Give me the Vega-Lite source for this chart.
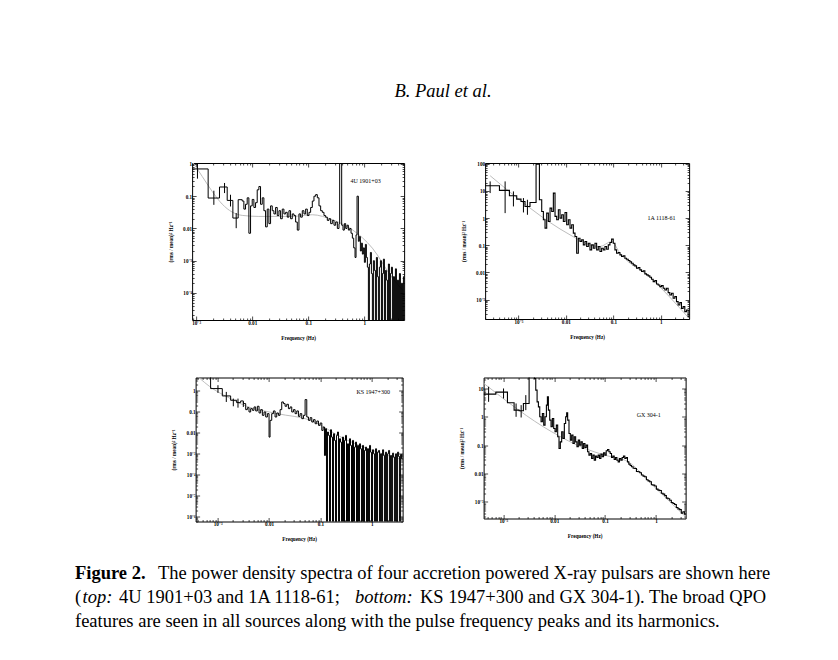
{
  "$schema": "https://vega.github.io/schema/vega-lite/v6.json",
  "padding": {"left": 75, "top": 81, "right": 5, "bottom": 5},
  "background": "white",
  "title": {
    "text": "B. Paul et al.",
    "font": "Liberation Serif",
    "fontSize": 18.5,
    "fontStyle": "italic",
    "fontWeight": "normal",
    "color": "black",
    "anchor": "middle",
    "frame": "bounds",
    "baseline": "alphabetic",
    "dx": 2,
    "offset": 46
  },
  "config": {
    "view": {"stroke": "black", "strokeWidth": 1},
    "axis": {
      "domain": false,
      "grid": false,
      "labelFont": "Liberation Serif",
      "labelFontSize": 5.2,
      "labelFontWeight": "bold",
      "labelColor": "black",
      "labelOverlap": false,
      "labelFlush": false,
      "titleFont": "Liberation Serif",
      "titleFontSize": 5.2,
      "titleFontWeight": "bold",
      "titleColor": "black",
      "tickColor": "black",
      "tickWidth": 0.7
    },
    "axisLeft": {"minExtent": 14, "maxExtent": 14, "titlePadding": 5, "labelPadding": 4.5},
    "axisBottom": {"minExtent": 8, "maxExtent": 8, "titlePadding": 7, "labelPadding": 4},
    "axisRight": {"minExtent": 0, "maxExtent": 0},
    "axisTop": {"minExtent": 0, "maxExtent": 0}
  },
  "datasets": {
    "p1": [
      {"f": 0.000848, "p": 0.70}, {"f": 0.001638, "p": 0.0877}, {"f": 0.00261, "p": 0.193}, {"f": 0.00358, "p": 0.074},
      {"f": 0.00452, "p": 0.021}, {"f": 0.00562, "p": 0.078}, {"f": 0.00663, "p": 0.0708}, {"f": 0.0071, "p": 0.0398},
      {"f": 0.0076, "p": 0.0562}, {"f": 0.00814, "p": 0.0891}, {"f": 0.00872, "p": 0.0071}, {"f": 0.00934, "p": 0.0501},
      {"f": 0.0100, "p": 0.0794}, {"f": 0.01071, "p": 0.0447}, {"f": 0.01147, "p": 0.0631}, {"f": 0.01228, "p": 0.158},
      {"f": 0.01315, "p": 0.2}, {"f": 0.01408, "p": 0.0562}, {"f": 0.01509, "p": 0.0891}, {"f": 0.01615, "p": 0.0355},
      {"f": 0.0173, "p": 0.0112}, {"f": 0.01853, "p": 0.0398}, {"f": 0.01984, "p": 0.0141}, {"f": 0.02125, "p": 0.0501},
      {"f": 0.02276, "p": 0.0355}, {"f": 0.02437, "p": 0.0282}, {"f": 0.0261, "p": 0.0447}, {"f": 0.02795, "p": 0.0251},
      {"f": 0.02994, "p": 0.0355}, {"f": 0.03206, "p": 0.02}, {"f": 0.03434, "p": 0.0398}, {"f": 0.03677, "p": 0.0282},
      {"f": 0.03938, "p": 0.0316}, {"f": 0.04217, "p": 0.0224}, {"f": 0.04516, "p": 0.0355}, {"f": 0.04837, "p": 0.02},
      {"f": 0.0518, "p": 0.0282}, {"f": 0.05547, "p": 0.0251}, {"f": 0.05941, "p": 0.0158}, {"f": 0.06362, "p": 0.0089},
      {"f": 0.06813, "p": 0.0282}, {"f": 0.07297, "p": 0.0224}, {"f": 0.07814, "p": 0.0355}, {"f": 0.08369, "p": 0.0282},
      {"f": 0.08962, "p": 0.0398}, {"f": 0.09597, "p": 0.0251}, {"f": 0.1028, "p": 0.0316}, {"f": 0.1101, "p": 0.0447},
      {"f": 0.1179, "p": 0.0708}, {"f": 0.1262, "p": 0.1}, {"f": 0.1352, "p": 0.112}, {"f": 0.1448, "p": 0.0891},
      {"f": 0.155, "p": 0.0501}, {"f": 0.166, "p": 0.0355}, {"f": 0.1778, "p": 0.0316}, {"f": 0.1904, "p": 0.0251},
      {"f": 0.2039, "p": 0.0224}, {"f": 0.2184, "p": 0.0178}, {"f": 0.2339, "p": 0.02}, {"f": 0.2504, "p": 0.0141},
      {"f": 0.2682, "p": 0.0178}, {"f": 0.2872, "p": 0.0126}, {"f": 0.3076, "p": 0.0158}, {"f": 0.3294, "p": 0.01},
      {"f": 0.3528, "p": 0.0141}, {"f": 0.3628, "p": 4.0}, {"f": 0.3937, "p": 0.0126}, {"f": 0.4159, "p": 0.0089},
      {"f": 0.4394, "p": 0.0141}, {"f": 0.4642, "p": 0.01}, {"f": 0.4903, "p": 0.0126}, {"f": 0.518, "p": 0.0089},
      {"f": 0.5472, "p": 0.01}, {"f": 0.578, "p": 0.0071}, {"f": 0.6106, "p": 0.005}, {"f": 0.645, "p": 0.0025},
      {"f": 0.6813, "p": 0.00126}, {"f": 0.7099, "p": 0.0063}, {"f": 0.7396, "p": 0.1}, {"f": 0.7814, "p": 0.004},
      {"f": 0.8141, "p": 0.0056}, {"f": 0.8484, "p": 0.002}, {"f": 0.8839, "p": 0.0035}, {"f": 0.9211, "p": 0.0016},
      {"f": 0.9597, "p": 0.0025}, {"f": 1.0, "p": 0.00089}, {"f": 1.042, "p": 0.0032}, {"f": 1.086, "p": 0.00126},
      {"f": 1.131, "p": 0.00063}, {"f": 1.179, "p": 1e-9}, {"f": 1.228, "p": 0.00079}, {"f": 1.28, "p": 0.0018},
      {"f": 1.334, "p": 0.0004}, {"f": 1.389, "p": 1e-9}, {"f": 1.448, "p": 0.001}, {"f": 1.509, "p": 0.0005},
      {"f": 1.572, "p": 1e-9}, {"f": 1.638, "p": 0.00126}, {"f": 1.707, "p": 0.00032}, {"f": 1.778, "p": 1e-9},
      {"f": 1.853, "p": 0.00063}, {"f": 1.931, "p": 0.001}, {"f": 2.012, "p": 1e-9}, {"f": 2.096, "p": 0.0004},
      {"f": 2.184, "p": 0.00112}, {"f": 2.276, "p": 1e-9}, {"f": 2.371, "p": 0.0005}, {"f": 2.471, "p": 0.00025},
      {"f": 2.575, "p": 1e-9}, {"f": 2.683, "p": 0.00079}, {"f": 2.795, "p": 1e-9}, {"f": 2.912, "p": 0.0004},
      {"f": 3.035, "p": 0.00063}, {"f": 3.162, "p": 1e-9}, {"f": 3.295, "p": 0.00032}, {"f": 3.433, "p": 1e-9},
      {"f": 3.577, "p": 0.00056}, {"f": 3.727, "p": 1e-9}, {"f": 3.884, "p": 0.00025}, {"f": 4.047, "p": 1e-9},
      {"f": 4.217, "p": 0.0004}, {"f": 4.394, "p": 1e-9}, {"f": 4.578, "p": 0.0002}, {"f": 4.77, "p": 1e-9},
      {"f": 4.97, "p": 0.00032}, {"f": 5.2, "p": 0.00032}
    ],
    "p1m": [
      {"f": 0.000848, "p": 1.21}, {"f": 0.00128, "p": 0.414}, {"f": 0.00193, "p": 0.141}, {"f": 0.00291, "p": 0.057},
      {"f": 0.00439, "p": 0.0322}, {"f": 0.00663, "p": 0.0254}, {"f": 0.01315, "p": 0.0236}, {"f": 0.0518, "p": 0.0236},
      {"f": 0.1179, "p": 0.0266}, {"f": 0.2682, "p": 0.0186}, {"f": 0.6106, "p": 0.0091}, {"f": 1.389, "p": 0.00245},
      {"f": 3.162, "p": 0.00029}, {"f": 5.11, "p": 0.00011}
    ],
    "p1e": [
      {"f": 0.001056, "lo": 0.35, "hi": 1.07}, {"f": 0.00207, "lo": 0.054, "hi": 0.148},
      {"f": 0.00321, "lo": 0.125, "hi": 0.257}, {"f": 0.0041, "lo": 0.048, "hi": 0.111},
      {"f": 0.00518, "lo": 0.0102, "hi": 0.03}
    ],
    "p2": [
      {"f": 0.000199, "p": 15.5}, {"f": 0.000399, "p": 10.4}, {"f": 0.000647, "p": 6.62}, {"f": 0.000921, "p": 4.99},
      {"f": 0.001135, "p": 4.09}, {"f": 0.001377, "p": 2.68}, {"f": 0.001754, "p": 3.76}, {"f": 0.002355, "p": 95},
      {"f": 0.00277, "p": 4.71}, {"f": 0.003098, "p": 1.75}, {"f": 0.003358, "p": 0.863}, {"f": 0.00364, "p": 0.426},
      {"f": 0.003946, "p": 1.52}, {"f": 0.004278, "p": 0.75}, {"f": 0.004638, "p": 2.32}, {"f": 0.005028, "p": 1.75},
      {"f": 0.00545, "p": 8.3}, {"f": 0.005908, "p": 1.15}, {"f": 0.006405, "p": 0.863}, {"f": 0.006944, "p": 2.02},
      {"f": 0.007527, "p": 0.994}, {"f": 0.00816, "p": 1.32}, {"f": 0.008845, "p": 0.75}, {"f": 0.009589, "p": 1.61},
      {"f": 0.01039, "p": 0.565}, {"f": 0.01127, "p": 0.863}, {"f": 0.01222, "p": 0.426}, {"f": 0.01324, "p": 0.565},
      {"f": 0.01436, "p": 0.279}, {"f": 0.01556, "p": 0.21}, {"f": 0.01687, "p": 0.0511}, {"f": 0.01829, "p": 0.182},
      {"f": 0.01983, "p": 0.137}, {"f": 0.02149, "p": 0.158}, {"f": 0.0233, "p": 0.103}, {"f": 0.02526, "p": 0.137},
      {"f": 0.02738, "p": 0.0897}, {"f": 0.02968, "p": 0.119}, {"f": 0.03218, "p": 0.0676}, {"f": 0.03488, "p": 0.103},
      {"f": 0.03781, "p": 0.0779}, {"f": 0.04099, "p": 0.119}, {"f": 0.04443, "p": 0.0676}, {"f": 0.04817, "p": 0.0897},
      {"f": 0.05221, "p": 0.0588}, {"f": 0.0566, "p": 0.0779}, {"f": 0.06136, "p": 0.0676}, {"f": 0.06651, "p": 0.0897},
      {"f": 0.0721, "p": 0.0716}, {"f": 0.07816, "p": 0.103}, {"f": 0.08472, "p": 0.126}, {"f": 0.09183, "p": 0.168},
      {"f": 0.09952, "p": 0.119}, {"f": 0.1079, "p": 0.0676}, {"f": 0.1169, "p": 0.0511}, {"f": 0.1268, "p": 0.054},
      {"f": 0.1374, "p": 0.0443}, {"f": 0.149, "p": 0.0385}, {"f": 0.1615, "p": 0.0407}, {"f": 0.175, "p": 0.0334},
      {"f": 0.1897, "p": 0.0306}, {"f": 0.2057, "p": 0.0274}, {"f": 0.2229, "p": 0.0244}, {"f": 0.2416, "p": 0.0218},
      {"f": 0.262, "p": 0.019}, {"f": 0.284, "p": 0.0174}, {"f": 0.3078, "p": 0.0143}, {"f": 0.3337, "p": 0.0151},
      {"f": 0.3617, "p": 0.0124}, {"f": 0.3922, "p": 0.0108}, {"f": 0.4251, "p": 0.0114}, {"f": 0.4608, "p": 0.00883},
      {"f": 0.4995, "p": 0.00811}, {"f": 0.5415, "p": 0.00745}, {"f": 0.587, "p": 0.00665}, {"f": 0.6363, "p": 0.00561},
      {"f": 0.6898, "p": 0.0046}, {"f": 0.7478, "p": 0.00501}, {"f": 0.8106, "p": 0.00377}, {"f": 0.8788, "p": 0.00347},
      {"f": 0.9528, "p": 0.00301}, {"f": 1.033, "p": 0.00327}, {"f": 1.12, "p": 0.00261}, {"f": 1.214, "p": 0.00227},
      {"f": 1.315, "p": 0.00261}, {"f": 1.426, "p": 0.00181}, {"f": 1.546, "p": 0.00148}, {"f": 1.676, "p": 0.00171},
      {"f": 1.816, "p": 0.00112}, {"f": 1.969, "p": 0.00129}, {"f": 2.135, "p": 0.000843}, {"f": 2.314, "p": 0.000635},
      {"f": 2.509, "p": 0.000774}, {"f": 2.72, "p": 0.000478}, {"f": 2.948, "p": 0.000552}, {"f": 3.196, "p": 0.000361},
      {"f": 3.464, "p": 0.000416}, {"f": 3.755, "p": 0.000236}, {"f": 4.0, "p": 0.000236}
    ],
    "p2m": [
      {"f": 0.000254, "p": 36.1}, {"f": 0.01222, "p": 0.242}, {"f": 0.03218, "p": 0.103}, {"f": 0.05221, "p": 0.0897},
      {"f": 0.09183, "p": 0.137}, {"f": 0.1374, "p": 0.0511}, {"f": 0.587, "p": 0.00665}, {"f": 3.94, "p": 0.000205}
    ],
    "p2e": [
      {"f": 0.000254, "lo": 8.3, "hi": 22.3}, {"f": 0.000525, "lo": 1.52, "hi": 22.3},
      {"f": 0.000786, "lo": 2.68, "hi": 9.55}, {"f": 0.001277, "lo": 1.61, "hi": 5.43},
      {"f": 0.001549, "lo": 1.32, "hi": 4.71}
    ],
    "p3": [
      {"f": 0.000373, "p": 6.79}, {"f": 0.00073, "p": 1.29}, {"f": 0.001233, "p": 0.575}, {"f": 0.001791, "p": 0.356},
      {"f": 0.002345, "p": 0.275}, {"f": 0.002806, "p": 0.331}, {"f": 0.003162, "p": 0.247}, {"f": 0.003511, "p": 0.127},
      {"f": 0.003784, "p": 0.158}, {"f": 0.004077, "p": 0.0982}, {"f": 0.004394, "p": 0.142}, {"f": 0.004735, "p": 0.118},
      {"f": 0.005102, "p": 0.171}, {"f": 0.005498, "p": 0.11}, {"f": 0.005925, "p": 0.184}, {"f": 0.006385, "p": 0.0879},
      {"f": 0.006881, "p": 0.127}, {"f": 0.007415, "p": 0.0679}, {"f": 0.007991, "p": 0.0982}, {"f": 0.008611, "p": 0.0565},
      {"f": 0.009279, "p": 0.0817}, {"f": 0.01, "p": 0.00619}, {"f": 0.01046, "p": 0.0391}, {"f": 0.01127, "p": 0.0817},
      {"f": 0.01215, "p": 0.11}, {"f": 0.01309, "p": 0.0565}, {"f": 0.01411, "p": 0.0879}, {"f": 0.0152, "p": 0.0679},
      {"f": 0.01638, "p": 0.127}, {"f": 0.01766, "p": 0.296}, {"f": 0.01903, "p": 0.247}, {"f": 0.0205, "p": 0.184},
      {"f": 0.02209, "p": 0.229}, {"f": 0.02381, "p": 0.142}, {"f": 0.02566, "p": 0.171}, {"f": 0.02765, "p": 0.0982},
      {"f": 0.02979, "p": 0.127}, {"f": 0.0321, "p": 0.0817}, {"f": 0.03459, "p": 0.11}, {"f": 0.03728, "p": 0.0608},
      {"f": 0.04017, "p": 0.0817}, {"f": 0.04329, "p": 0.047}, {"f": 0.04665, "p": 0.0679}, {"f": 0.05027, "p": 0.384},
      {"f": 0.05417, "p": 0.0565}, {"f": 0.05837, "p": 0.0391}, {"f": 0.0629, "p": 0.0525}, {"f": 0.06778, "p": 0.0325},
      {"f": 0.07304, "p": 0.0421}, {"f": 0.07871, "p": 0.027}, {"f": 0.08482, "p": 0.0363}, {"f": 0.09141, "p": 0.0225},
      {"f": 0.09851, "p": 0.0291}, {"f": 0.1062, "p": 0.0129}, {"f": 0.1127, "p": 0.0187}, {"f": 0.1197, "p": 0.000817},
      {"f": 0.1252, "p": 0.0156}, {"f": 0.1309, "p": 1e-9}, {"f": 0.1369, "p": 0.0108}, {"f": 0.1431, "p": 0.00745},
      {"f": 0.1497, "p": 1e-9}, {"f": 0.1566, "p": 0.0139}, {"f": 0.1638, "p": 0.00619}, {"f": 0.1713, "p": 1e-9},
      {"f": 0.1791, "p": 0.00895}, {"f": 0.1873, "p": 0.00429}, {"f": 0.1959, "p": 1e-9}, {"f": 0.2049, "p": 0.00745},
      {"f": 0.2143, "p": 0.0108}, {"f": 0.2241, "p": 1e-9}, {"f": 0.2344, "p": 0.00515}, {"f": 0.2452, "p": 0.00356},
      {"f": 0.2564, "p": 1e-9}, {"f": 0.2682, "p": 0.00619}, {"f": 0.2805, "p": 1e-9}, {"f": 0.2933, "p": 0.00429},
      {"f": 0.3069, "p": 0.00745}, {"f": 0.3209, "p": 1e-9}, {"f": 0.3357, "p": 0.00296}, {"f": 0.3511, "p": 1e-9},
      {"f": 0.3672, "p": 0.00515}, {"f": 0.3841, "p": 0.00247}, {"f": 0.4017, "p": 1e-9}, {"f": 0.4201, "p": 0.00429},
      {"f": 0.4394, "p": 1e-9}, {"f": 0.4595, "p": 0.00205}, {"f": 0.4806, "p": 0.00356}, {"f": 0.5027, "p": 1e-9},
      {"f": 0.5257, "p": 0.00247}, {"f": 0.5499, "p": 1e-9}, {"f": 0.5751, "p": 0.00296}, {"f": 0.6015, "p": 0.00171},
      {"f": 0.6291, "p": 1e-9}, {"f": 0.6579, "p": 0.00247}, {"f": 0.6881, "p": 1e-9}, {"f": 0.7197, "p": 0.00142},
      {"f": 0.7527, "p": 0.00205}, {"f": 0.7873, "p": 1e-9}, {"f": 0.8234, "p": 0.00171}, {"f": 0.8612, "p": 1e-9},
      {"f": 0.9007, "p": 0.00247}, {"f": 0.9419, "p": 0.00118}, {"f": 0.9851, "p": 1e-9}, {"f": 1.03, "p": 0.00153},
      {"f": 1.078, "p": 0.000982}, {"f": 1.127, "p": 1e-9}, {"f": 1.179, "p": 0.00171}, {"f": 1.233, "p": 1e-9},
      {"f": 1.289, "p": 0.00118}, {"f": 1.349, "p": 0.00142}, {"f": 1.41, "p": 1e-9}, {"f": 1.475, "p": 0.000982},
      {"f": 1.543, "p": 1e-9}, {"f": 1.614, "p": 0.00153}, {"f": 1.688, "p": 0.000817}, {"f": 1.765, "p": 1e-9},
      {"f": 1.846, "p": 0.00118}, {"f": 1.931, "p": 1e-9}, {"f": 2.02, "p": 0.000982}, {"f": 2.112, "p": 0.00142},
      {"f": 2.209, "p": 1e-9}, {"f": 2.31, "p": 0.000817}, {"f": 2.416, "p": 1e-9}, {"f": 2.527, "p": 0.00106},
      {"f": 2.643, "p": 0.000679}, {"f": 2.764, "p": 1e-9}, {"f": 2.891, "p": 0.000982}, {"f": 3.024, "p": 1e-9},
      {"f": 3.162, "p": 0.00118}, {"f": 3.307, "p": 0.000731}, {"f": 3.459, "p": 1e-9}, {"f": 3.618, "p": 0.000912},
      {"f": 3.784, "p": 0.000565}, {"f": 4.05, "p": 0.000565}
    ],
    "p3m": [
      {"f": 0.000373, "p": 5.9}, {"f": 0.000849, "p": 1.16}, {"f": 0.00154, "p": 0.515}, {"f": 0.00326, "p": 0.205},
      {"f": 0.01453, "p": 0.0817}, {"f": 0.0648, "p": 0.0391}, {"f": 0.289, "p": 0.00515}, {"f": 1.289, "p": 0.00118},
      {"f": 3.96, "p": 0.000506}
    ],
    "p3e": [
      {"f": 0.001015, "lo": 0.8, "hi": 1.87}, {"f": 0.001475, "lo": 0.296, "hi": 0.895},
      {"f": 0.002019, "lo": 0.184, "hi": 0.428}, {"f": 0.002489, "lo": 0.158, "hi": 0.428},
      {"f": 0.003162, "lo": 0.171, "hi": 0.296}
    ],
    "p4": [
      {"f": 0.000411, "p": 6.31}, {"f": 0.000714, "p": 7.42}, {"f": 0.001208, "p": 3.12}, {"f": 0.001632, "p": 1.72},
      {"f": 0.002045, "p": 1.63}, {"f": 0.002486, "p": 2.96}, {"f": 0.003219, "p": 29}, {"f": 0.004095, "p": 22.5},
      {"f": 0.004348, "p": 8.73}, {"f": 0.004617, "p": 3.38}, {"f": 0.004902, "p": 2.25}, {"f": 0.005206, "p": 1.0},
      {"f": 0.005527, "p": 0.667}, {"f": 0.005869, "p": 1.31}, {"f": 0.006232, "p": 0.508}, {"f": 0.006622, "p": 1.0},
      {"f": 0.007036, "p": 2.58}, {"f": 0.007359, "p": 5.08}, {"f": 0.007699, "p": 1.72}, {"f": 0.008177, "p": 0.763},
      {"f": 0.008683, "p": 0.444}, {"f": 0.009221, "p": 0.873}, {"f": 0.009792, "p": 0.388}, {"f": 0.0104, "p": 0.296},
      {"f": 0.01104, "p": 0.508}, {"f": 0.01172, "p": 0.197}, {"f": 0.01245, "p": 0.0762}, {"f": 0.01322, "p": 0.131},
      {"f": 0.01404, "p": 0.296}, {"f": 0.01491, "p": 0.172}, {"f": 0.01584, "p": 0.582}, {"f": 0.01681, "p": 1.0},
      {"f": 0.01759, "p": 1.38}, {"f": 0.01841, "p": 0.763}, {"f": 0.01955, "p": 0.258}, {"f": 0.02076, "p": 0.15},
      {"f": 0.02205, "p": 0.225}, {"f": 0.02342, "p": 0.115}, {"f": 0.02487, "p": 0.197}, {"f": 0.02641, "p": 0.131},
      {"f": 0.02804, "p": 0.0873}, {"f": 0.02978, "p": 0.15}, {"f": 0.03162, "p": 0.1}, {"f": 0.03358, "p": 0.131},
      {"f": 0.03566, "p": 0.0762}, {"f": 0.03787, "p": 0.115}, {"f": 0.04021, "p": 0.0828}, {"f": 0.0427, "p": 0.1},
      {"f": 0.04535, "p": 0.0582}, {"f": 0.04816, "p": 0.0444}, {"f": 0.05114, "p": 0.0508}, {"f": 0.05433, "p": 0.0338},
      {"f": 0.05768, "p": 0.0444}, {"f": 0.06126, "p": 0.0296}, {"f": 0.06505, "p": 0.0409}, {"f": 0.06908, "p": 0.0367},
      {"f": 0.07336, "p": 0.0444}, {"f": 0.07791, "p": 0.0338}, {"f": 0.08276, "p": 0.0481}, {"f": 0.08788, "p": 0.0388},
      {"f": 0.09333, "p": 0.0536}, {"f": 0.09911, "p": 0.0444}, {"f": 0.1052, "p": 0.0631}, {"f": 0.1117, "p": 0.0703},
      {"f": 0.1187, "p": 0.0582}, {"f": 0.126, "p": 0.0508}, {"f": 0.1338, "p": 0.0367}, {"f": 0.1421, "p": 0.0409},
      {"f": 0.151, "p": 0.0312}, {"f": 0.1603, "p": 0.0367}, {"f": 0.1702, "p": 0.0296}, {"f": 0.1808, "p": 0.0258},
      {"f": 0.192, "p": 0.0338}, {"f": 0.2039, "p": 0.0296}, {"f": 0.2165, "p": 0.0367}, {"f": 0.2299, "p": 0.0409},
      {"f": 0.2442, "p": 0.0338}, {"f": 0.2593, "p": 0.0367}, {"f": 0.2754, "p": 0.0258}, {"f": 0.2924, "p": 0.0214},
      {"f": 0.3106, "p": 0.0191}, {"f": 0.3298, "p": 0.0172}, {"f": 0.3556, "p": 0.0154}, {"f": 0.3833, "p": 0.015},
      {"f": 0.4132, "p": 0.0118}, {"f": 0.4454, "p": 0.0115}, {"f": 0.4802, "p": 0.0106}, {"f": 0.5176, "p": 0.0088},
      {"f": 0.558, "p": 0.00805}, {"f": 0.6016, "p": 0.0077}, {"f": 0.6486, "p": 0.006}, {"f": 0.6993, "p": 0.00551},
      {"f": 0.7538, "p": 0.0051}, {"f": 0.8126, "p": 0.004}, {"f": 0.8761, "p": 0.00387}, {"f": 0.9445, "p": 0.0036},
      {"f": 1.018, "p": 0.0028}, {"f": 1.098, "p": 0.00258}, {"f": 1.183, "p": 0.0025}, {"f": 1.276, "p": 0.002},
      {"f": 1.375, "p": 0.00187}, {"f": 1.483, "p": 0.00165}, {"f": 1.598, "p": 0.00135}, {"f": 1.723, "p": 0.00128},
      {"f": 1.858, "p": 0.00114}, {"f": 2.003, "p": 0.00095}, {"f": 2.159, "p": 0.000873}, {"f": 2.327, "p": 0.0008},
      {"f": 2.509, "p": 0.00063}, {"f": 2.704, "p": 0.000566}, {"f": 2.916, "p": 0.00053}, {"f": 3.144, "p": 0.0004},
      {"f": 3.388, "p": 0.000444}, {"f": 3.653, "p": 0.000367}, {"f": 3.9, "p": 0.000367}
    ],
    "p4m": [
      {"f": 0.000411, "p": 15.3}, {"f": 0.00895, "p": 0.296}, {"f": 0.0402, "p": 0.0762}, {"f": 0.099, "p": 0.0444},
      {"f": 0.284, "p": 0.0258}, {"f": 0.813, "p": 0.00421}, {"f": 3.82, "p": 0.000296}
    ],
    "p4e": [
      {"f": 0.000515, "lo": 3.38, "hi": 11.5}, {"f": 0.001012, "lo": 4.44, "hi": 10},
      {"f": 0.001786, "lo": 1.0, "hi": 2.96}, {"f": 0.002245, "lo": 0.947, "hi": 2.58},
      {"f": 0.002771, "lo": 1.72, "hi": 5.82}
    ],
    "labels": [
      {"panel": 1, "name": "4U 1901+03"},
      {"panel": 2, "name": "1A 1118-61"},
      {"panel": 3, "name": "KS 1947+300"},
      {"panel": 4, "name": "GX 304-1"}
    ],
    "caption": [
      {"line": 1, "seg": "fig", "text": "Figure 2."},
      {"line": 1, "seg": "r1", "text": "The power density spectra of four accretion powered X-ray pulsars are shown here"},
      {"line": 2, "seg": "open", "text": "("},
      {"line": 2, "seg": "top", "text": "top:"},
      {"line": 2, "seg": "r2a", "text": "4U 1901+03 and 1A 1118-61;"},
      {"line": 2, "seg": "bottom", "text": "bottom:"},
      {"line": 2, "seg": "r2b", "text": "KS 1947+300 and GX 304-1).  The broad QPO"},
      {"line": 3, "seg": "r3", "text": "features are seen in all sources along with the pulse frequency peaks and its harmonics."}
    ]
  },
  "vconcat": [
    {
      "vconcat": [
        {
          "hconcat": [
            {
              "width": 212,
              "height": 157,
              "layer": [
                {
                  "data": {"name": "p1m"},
                  "mark": {"type": "line", "interpolate": "monotone", "color": "#bdbdbd", "strokeWidth": 1, "clip": true},
                  "encoding": {
                    "x": {"field": "f", "type": "quantitative", "scale": {"type": "log", "domain": [0.000848, 5.11], "nice": false},
                      "axis": {"orient": "top", "labels": false, "title": null, "values": [0.0009,0.001,0.002,0.003,0.004,0.005,0.006,0.007,0.008,0.009,0.01,0.02,0.03,0.04,0.05,0.06,0.07,0.08,0.09,0.1,0.2,0.3,0.4,0.5,0.6,0.7,0.8,0.9,1,2,3,4,5],
                        "tickSize": {"condition": {"test": "abs(log(datum.value)/LN10 - round(log(datum.value)/LN10)) < 0.01", "value": -4}, "value": -2}}},
                    "y": {"field": "p", "type": "quantitative", "scale": {"type": "log", "domain": [0.0000145, 1.07], "nice": false},
                      "axis": {"orient": "right", "labels": false, "title": null, "values": [0.00002,0.00003,0.00004,0.00005,0.00006,0.00007,0.00008,0.00009,0.0001,0.0002,0.0003,0.0004,0.0005,0.0006,0.0007,0.0008,0.0009,0.001,0.002,0.003,0.004,0.005,0.006,0.007,0.008,0.009,0.01,0.02,0.03,0.04,0.05,0.06,0.07,0.08,0.09,0.1,0.2,0.3,0.4,0.5,0.6,0.7,0.8,0.9,1],
                        "tickSize": {"condition": {"test": "abs(log(datum.value)/LN10 - round(log(datum.value)/LN10)) < 0.01", "value": -4}, "value": -2}}}
                  }
                },
                {
                  "data": {"name": "p1"},
                  "mark": {"type": "line", "interpolate": "step-after", "color": "black", "strokeWidth": 1, "clip": true},
                  "encoding": {
                    "x": {"field": "f", "type": "quantitative", "scale": {"type": "log", "domain": [0.000848, 5.11], "nice": false},
                      "axis": {"orient": "bottom", "title": "Frequency (Hz)", "values": [0.0009,0.001,0.002,0.003,0.004,0.005,0.006,0.007,0.008,0.009,0.01,0.02,0.03,0.04,0.05,0.06,0.07,0.08,0.09,0.1,0.2,0.3,0.4,0.5,0.6,0.7,0.8,0.9,1,2,3,4,5],
                        "labelExpr": "abs(log(datum.value)/LN10 - round(log(datum.value)/LN10)) > 0.01 ? '' : datum.value >= 0.01 ? format(datum.value, '~g') : round(log(datum.value)/LN10) == -3 ? '10⁻³' : round(log(datum.value)/LN10) == -4 ? '10⁻⁴' : round(log(datum.value)/LN10) == -5 ? '10⁻⁵' : '10⁻⁶'",
                        "tickSize": {"condition": {"test": "abs(log(datum.value)/LN10 - round(log(datum.value)/LN10)) < 0.01", "value": -4}, "value": -2}}},
                    "y": {"field": "p", "type": "quantitative", "scale": {"type": "log", "domain": [0.0000145, 1.07], "nice": false},
                      "axis": {"orient": "left", "title": "(rms / mean)² Hz⁻¹", "values": [0.00002,0.00003,0.00004,0.00005,0.00006,0.00007,0.00008,0.00009,0.0001,0.0002,0.0003,0.0004,0.0005,0.0006,0.0007,0.0008,0.0009,0.001,0.002,0.003,0.004,0.005,0.006,0.007,0.008,0.009,0.01,0.02,0.03,0.04,0.05,0.06,0.07,0.08,0.09,0.1,0.2,0.3,0.4,0.5,0.6,0.7,0.8,0.9,1],
                        "labelExpr": "abs(log(datum.value)/LN10 - round(log(datum.value)/LN10)) > 0.01 ? '' : datum.value >= 0.01 ? format(datum.value, '~g') : round(log(datum.value)/LN10) == -3 ? '10⁻³' : round(log(datum.value)/LN10) == -4 ? '10⁻⁴' : round(log(datum.value)/LN10) == -5 ? '10⁻⁵' : '10⁻⁶'",
                        "tickSize": {"condition": {"test": "abs(log(datum.value)/LN10 - round(log(datum.value)/LN10)) < 0.01", "value": -4}, "value": -2}}}
                  }
                },
                {
                  "data": {"name": "p1e"},
                  "mark": {"type": "rule", "color": "black", "strokeWidth": 1, "clip": true},
                  "encoding": {
                    "x": {"field": "f", "type": "quantitative", "scale": {"type": "log", "domain": [0.000848, 5.11], "nice": false}, "axis": null},
                    "y": {"field": "lo", "type": "quantitative", "scale": {"type": "log", "domain": [0.0000145, 1.07], "nice": false}, "axis": null},
                    "y2": {"field": "hi"}
                  }
                },
                {
                  "data": {"name": "labels"},
                  "transform": [{"filter": "datum.panel == 1"}],
                  "mark": {"type": "text", "font": "Liberation Serif", "fontSize": 6, "color": "black", "align": "center"},
                  "encoding": {
                    "x": {"datum": 1.05, "type": "quantitative", "scale": {"type": "log", "domain": [0.000848, 5.11], "nice": false}, "axis": null},
                    "y": {"datum": 0.29, "type": "quantitative", "scale": {"type": "log", "domain": [0.0000145, 1.07], "nice": false}, "axis": null},
                    "text": {"field": "name"}
                  }
                }
              ],
              "resolve": {"axis": {"x": "independent", "y": "independent"}}
            },
            {
              "width": 204,
              "height": 156,
              "layer": [
                {
                  "data": {"name": "p2m"},
                  "mark": {"type": "line", "interpolate": "monotone", "color": "#bdbdbd", "strokeWidth": 1, "clip": true},
                  "encoding": {
                    "x": {"field": "f", "type": "quantitative", "scale": {"type": "log", "domain": [0.000199, 3.94], "nice": false},
                      "axis": {"orient": "top", "labels": false, "title": null, "values": [0.0002,0.0003,0.0004,0.0005,0.0006,0.0007,0.0008,0.0009,0.001,0.002,0.003,0.004,0.005,0.006,0.007,0.008,0.009,0.01,0.02,0.03,0.04,0.05,0.06,0.07,0.08,0.09,0.1,0.2,0.3,0.4,0.5,0.6,0.7,0.8,0.9,1,2,3],
                        "tickSize": {"condition": {"test": "abs(log(datum.value)/LN10 - round(log(datum.value)/LN10)) < 0.01", "value": -4}, "value": -2}}},
                    "y": {"field": "p", "type": "quantitative", "scale": {"type": "log", "domain": [0.000194, 106], "nice": false},
                      "axis": {"orient": "right", "labels": false, "title": null, "values": [0.0002,0.0003,0.0004,0.0005,0.0006,0.0007,0.0008,0.0009,0.001,0.002,0.003,0.004,0.005,0.006,0.007,0.008,0.009,0.01,0.02,0.03,0.04,0.05,0.06,0.07,0.08,0.09,0.1,0.2,0.3,0.4,0.5,0.6,0.7,0.8,0.9,1,2,3,4,5,6,7,8,9,10,20,30,40,50,60,70,80,90,100],
                        "tickSize": {"condition": {"test": "abs(log(datum.value)/LN10 - round(log(datum.value)/LN10)) < 0.01", "value": -4}, "value": -2}}}
                  }
                },
                {
                  "data": {"name": "p2"},
                  "mark": {"type": "line", "interpolate": "step-after", "color": "black", "strokeWidth": 1.1, "clip": true},
                  "encoding": {
                    "x": {"field": "f", "type": "quantitative", "scale": {"type": "log", "domain": [0.000199, 3.94], "nice": false},
                      "axis": {"orient": "bottom", "title": "Frequency (Hz)", "values": [0.0002,0.0003,0.0004,0.0005,0.0006,0.0007,0.0008,0.0009,0.001,0.002,0.003,0.004,0.005,0.006,0.007,0.008,0.009,0.01,0.02,0.03,0.04,0.05,0.06,0.07,0.08,0.09,0.1,0.2,0.3,0.4,0.5,0.6,0.7,0.8,0.9,1,2,3],
                        "labelExpr": "abs(log(datum.value)/LN10 - round(log(datum.value)/LN10)) > 0.01 ? '' : datum.value >= 0.01 ? format(datum.value, '~g') : round(log(datum.value)/LN10) == -3 ? '10⁻³' : round(log(datum.value)/LN10) == -4 ? '10⁻⁴' : round(log(datum.value)/LN10) == -5 ? '10⁻⁵' : '10⁻⁶'",
                        "tickSize": {"condition": {"test": "abs(log(datum.value)/LN10 - round(log(datum.value)/LN10)) < 0.01", "value": -4}, "value": -2}}},
                    "y": {"field": "p", "type": "quantitative", "scale": {"type": "log", "domain": [0.000194, 106], "nice": false},
                      "axis": {"orient": "left", "title": "(rms / mean)² Hz⁻¹", "values": [0.0002,0.0003,0.0004,0.0005,0.0006,0.0007,0.0008,0.0009,0.001,0.002,0.003,0.004,0.005,0.006,0.007,0.008,0.009,0.01,0.02,0.03,0.04,0.05,0.06,0.07,0.08,0.09,0.1,0.2,0.3,0.4,0.5,0.6,0.7,0.8,0.9,1,2,3,4,5,6,7,8,9,10,20,30,40,50,60,70,80,90,100],
                        "labelExpr": "abs(log(datum.value)/LN10 - round(log(datum.value)/LN10)) > 0.01 ? '' : datum.value >= 0.01 ? format(datum.value, '~g') : round(log(datum.value)/LN10) == -3 ? '10⁻³' : round(log(datum.value)/LN10) == -4 ? '10⁻⁴' : round(log(datum.value)/LN10) == -5 ? '10⁻⁵' : '10⁻⁶'",
                        "tickSize": {"condition": {"test": "abs(log(datum.value)/LN10 - round(log(datum.value)/LN10)) < 0.01", "value": -4}, "value": -2}}}
                  }
                },
                {
                  "data": {"name": "p2e"},
                  "mark": {"type": "rule", "color": "black", "strokeWidth": 1, "clip": true},
                  "encoding": {
                    "x": {"field": "f", "type": "quantitative", "scale": {"type": "log", "domain": [0.000199, 3.94], "nice": false}, "axis": null},
                    "y": {"field": "lo", "type": "quantitative", "scale": {"type": "log", "domain": [0.000194, 106], "nice": false}, "axis": null},
                    "y2": {"field": "hi"}
                  }
                },
                {
                  "data": {"name": "labels"},
                  "transform": [{"filter": "datum.panel == 2"}],
                  "mark": {"type": "text", "font": "Liberation Serif", "fontSize": 6, "color": "black", "align": "center"},
                  "encoding": {
                    "x": {"datum": 1.03, "type": "quantitative", "scale": {"type": "log", "domain": [0.000199, 3.94], "nice": false}, "axis": null},
                    "y": {"datum": 1.0, "type": "quantitative", "scale": {"type": "log", "domain": [0.000194, 106], "nice": false}, "axis": null},
                    "text": {"field": "name"}
                  }
                }
              ],
              "resolve": {"axis": {"x": "independent", "y": "independent"}}
            }
          ],
          "spacing": 55
        },
        {
          "hconcat": [
            {
              "width": 207,
              "height": 144,
              "layer": [
                {
                  "data": {"name": "p3m"},
                  "mark": {"type": "line", "interpolate": "monotone", "color": "#bdbdbd", "strokeWidth": 1, "clip": true},
                  "encoding": {
                    "x": {"field": "f", "type": "quantitative", "scale": {"type": "log", "domain": [0.000373, 3.96], "nice": false},
                      "axis": {"orient": "top", "labels": false, "title": null, "values": [0.0004,0.0005,0.0006,0.0007,0.0008,0.0009,0.001,0.002,0.003,0.004,0.005,0.006,0.007,0.008,0.009,0.01,0.02,0.03,0.04,0.05,0.06,0.07,0.08,0.09,0.1,0.2,0.3,0.4,0.5,0.6,0.7,0.8,0.9,1,2,3],
                        "tickSize": {"condition": {"test": "abs(log(datum.value)/LN10 - round(log(datum.value)/LN10)) < 0.01", "value": -4}, "value": -2}}},
                    "y": {"field": "p", "type": "quantitative", "scale": {"type": "log", "domain": [0.00000057, 4.37], "nice": false},
                      "axis": {"orient": "right", "labels": false, "title": null, "values": [0.0000006,0.0000007,0.0000008,0.0000009,0.000001,0.000002,0.000003,0.000004,0.000005,0.000006,0.000007,0.000008,0.000009,0.00001,0.00002,0.00003,0.00004,0.00005,0.00006,0.00007,0.00008,0.00009,0.0001,0.0002,0.0003,0.0004,0.0005,0.0006,0.0007,0.0008,0.0009,0.001,0.002,0.003,0.004,0.005,0.006,0.007,0.008,0.009,0.01,0.02,0.03,0.04,0.05,0.06,0.07,0.08,0.09,0.1,0.2,0.3,0.4,0.5,0.6,0.7,0.8,0.9,1,2,3,4],
                        "tickSize": {"condition": {"test": "abs(log(datum.value)/LN10 - round(log(datum.value)/LN10)) < 0.01", "value": -4}, "value": -2}}}
                  }
                },
                {
                  "data": {"name": "p3"},
                  "mark": {"type": "line", "interpolate": "step-after", "color": "black", "strokeWidth": 1, "clip": true},
                  "encoding": {
                    "x": {"field": "f", "type": "quantitative", "scale": {"type": "log", "domain": [0.000373, 3.96], "nice": false},
                      "axis": {"orient": "bottom", "title": "Frequency (Hz)", "values": [0.0004,0.0005,0.0006,0.0007,0.0008,0.0009,0.001,0.002,0.003,0.004,0.005,0.006,0.007,0.008,0.009,0.01,0.02,0.03,0.04,0.05,0.06,0.07,0.08,0.09,0.1,0.2,0.3,0.4,0.5,0.6,0.7,0.8,0.9,1,2,3],
                        "labelExpr": "abs(log(datum.value)/LN10 - round(log(datum.value)/LN10)) > 0.01 ? '' : datum.value >= 0.01 ? format(datum.value, '~g') : round(log(datum.value)/LN10) == -3 ? '10⁻³' : round(log(datum.value)/LN10) == -4 ? '10⁻⁴' : round(log(datum.value)/LN10) == -5 ? '10⁻⁵' : '10⁻⁶'",
                        "tickSize": {"condition": {"test": "abs(log(datum.value)/LN10 - round(log(datum.value)/LN10)) < 0.01", "value": -4}, "value": -2}}},
                    "y": {"field": "p", "type": "quantitative", "scale": {"type": "log", "domain": [0.00000057, 4.37], "nice": false},
                      "axis": {"orient": "left", "title": "(rms / mean)² Hz⁻¹", "values": [0.0000006,0.0000007,0.0000008,0.0000009,0.000001,0.000002,0.000003,0.000004,0.000005,0.000006,0.000007,0.000008,0.000009,0.00001,0.00002,0.00003,0.00004,0.00005,0.00006,0.00007,0.00008,0.00009,0.0001,0.0002,0.0003,0.0004,0.0005,0.0006,0.0007,0.0008,0.0009,0.001,0.002,0.003,0.004,0.005,0.006,0.007,0.008,0.009,0.01,0.02,0.03,0.04,0.05,0.06,0.07,0.08,0.09,0.1,0.2,0.3,0.4,0.5,0.6,0.7,0.8,0.9,1,2,3,4],
                        "labelExpr": "abs(log(datum.value)/LN10 - round(log(datum.value)/LN10)) > 0.01 ? '' : datum.value >= 0.01 ? format(datum.value, '~g') : round(log(datum.value)/LN10) == -3 ? '10⁻³' : round(log(datum.value)/LN10) == -4 ? '10⁻⁴' : round(log(datum.value)/LN10) == -5 ? '10⁻⁵' : '10⁻⁶'",
                        "tickSize": {"condition": {"test": "abs(log(datum.value)/LN10 - round(log(datum.value)/LN10)) < 0.01", "value": -4}, "value": -2}}}
                  }
                },
                {
                  "data": {"name": "p3e"},
                  "mark": {"type": "rule", "color": "black", "strokeWidth": 1, "clip": true},
                  "encoding": {
                    "x": {"field": "f", "type": "quantitative", "scale": {"type": "log", "domain": [0.000373, 3.96], "nice": false}, "axis": null},
                    "y": {"field": "lo", "type": "quantitative", "scale": {"type": "log", "domain": [0.00000057, 4.37], "nice": false}, "axis": null},
                    "y2": {"field": "hi"}
                  }
                },
                {
                  "data": {"name": "labels"},
                  "transform": [{"filter": "datum.panel == 3"}],
                  "mark": {"type": "text", "font": "Liberation Serif", "fontSize": 6, "color": "black", "align": "center"},
                  "encoding": {
                    "x": {"datum": 1.06, "type": "quantitative", "scale": {"type": "log", "domain": [0.000373, 3.96], "nice": false}, "axis": null},
                    "y": {"datum": 0.9, "type": "quantitative", "scale": {"type": "log", "domain": [0.00000057, 4.37], "nice": false}, "axis": null},
                    "text": {"field": "name"}
                  }
                }
              ],
              "resolve": {"axis": {"x": "independent", "y": "independent"}}
            },
            {
              "width": 202,
              "height": 141,
              "layer": [
                {
                  "data": {"name": "p4m"},
                  "mark": {"type": "line", "interpolate": "monotone", "color": "#bdbdbd", "strokeWidth": 1, "clip": true},
                  "encoding": {
                    "x": {"field": "f", "type": "quantitative", "scale": {"type": "log", "domain": [0.000411, 3.82], "nice": false},
                      "axis": {"orient": "top", "labels": false, "title": null, "values": [0.0005,0.0006,0.0007,0.0008,0.0009,0.001,0.002,0.003,0.004,0.005,0.006,0.007,0.008,0.009,0.01,0.02,0.03,0.04,0.05,0.06,0.07,0.08,0.09,0.1,0.2,0.3,0.4,0.5,0.6,0.7,0.8,0.9,1,2,3],
                        "tickSize": {"condition": {"test": "abs(log(datum.value)/LN10 - round(log(datum.value)/LN10)) < 0.01", "value": -4}, "value": -2}}},
                    "y": {"field": "p", "type": "quantitative", "scale": {"type": "log", "domain": [0.000258, 24.4], "nice": false},
                      "axis": {"orient": "right", "labels": false, "title": null, "values": [0.0003,0.0004,0.0005,0.0006,0.0007,0.0008,0.0009,0.001,0.002,0.003,0.004,0.005,0.006,0.007,0.008,0.009,0.01,0.02,0.03,0.04,0.05,0.06,0.07,0.08,0.09,0.1,0.2,0.3,0.4,0.5,0.6,0.7,0.8,0.9,1,2,3,4,5,6,7,8,9,10,20],
                        "tickSize": {"condition": {"test": "abs(log(datum.value)/LN10 - round(log(datum.value)/LN10)) < 0.01", "value": -4}, "value": -2}}}
                  }
                },
                {
                  "data": {"name": "p4"},
                  "mark": {"type": "line", "interpolate": "step-after", "color": "black", "strokeWidth": 1.1, "clip": true},
                  "encoding": {
                    "x": {"field": "f", "type": "quantitative", "scale": {"type": "log", "domain": [0.000411, 3.82], "nice": false},
                      "axis": {"orient": "bottom", "title": "Frequency (Hz)", "values": [0.0005,0.0006,0.0007,0.0008,0.0009,0.001,0.002,0.003,0.004,0.005,0.006,0.007,0.008,0.009,0.01,0.02,0.03,0.04,0.05,0.06,0.07,0.08,0.09,0.1,0.2,0.3,0.4,0.5,0.6,0.7,0.8,0.9,1,2,3],
                        "labelExpr": "abs(log(datum.value)/LN10 - round(log(datum.value)/LN10)) > 0.01 ? '' : datum.value >= 0.01 ? format(datum.value, '~g') : round(log(datum.value)/LN10) == -3 ? '10⁻³' : round(log(datum.value)/LN10) == -4 ? '10⁻⁴' : round(log(datum.value)/LN10) == -5 ? '10⁻⁵' : '10⁻⁶'",
                        "tickSize": {"condition": {"test": "abs(log(datum.value)/LN10 - round(log(datum.value)/LN10)) < 0.01", "value": -4}, "value": -2}}},
                    "y": {"field": "p", "type": "quantitative", "scale": {"type": "log", "domain": [0.000258, 24.4], "nice": false},
                      "axis": {"orient": "left", "title": "(rms / mean)² Hz⁻¹", "values": [0.0003,0.0004,0.0005,0.0006,0.0007,0.0008,0.0009,0.001,0.002,0.003,0.004,0.005,0.006,0.007,0.008,0.009,0.01,0.02,0.03,0.04,0.05,0.06,0.07,0.08,0.09,0.1,0.2,0.3,0.4,0.5,0.6,0.7,0.8,0.9,1,2,3,4,5,6,7,8,9,10,20],
                        "labelExpr": "abs(log(datum.value)/LN10 - round(log(datum.value)/LN10)) > 0.01 ? '' : datum.value >= 0.01 ? format(datum.value, '~g') : round(log(datum.value)/LN10) == -3 ? '10⁻³' : round(log(datum.value)/LN10) == -4 ? '10⁻⁴' : round(log(datum.value)/LN10) == -5 ? '10⁻⁵' : '10⁻⁶'",
                        "tickSize": {"condition": {"test": "abs(log(datum.value)/LN10 - round(log(datum.value)/LN10)) < 0.01", "value": -4}, "value": -2}}}
                  }
                },
                {
                  "data": {"name": "p4e"},
                  "mark": {"type": "rule", "color": "black", "strokeWidth": 1, "clip": true},
                  "encoding": {
                    "x": {"field": "f", "type": "quantitative", "scale": {"type": "log", "domain": [0.000411, 3.82], "nice": false}, "axis": null},
                    "y": {"field": "lo", "type": "quantitative", "scale": {"type": "log", "domain": [0.000258, 24.4], "nice": false}, "axis": null},
                    "y2": {"field": "hi"}
                  }
                },
                {
                  "data": {"name": "labels"},
                  "transform": [{"filter": "datum.panel == 4"}],
                  "mark": {"type": "text", "font": "Liberation Serif", "fontSize": 6, "color": "black", "align": "center"},
                  "encoding": {
                    "x": {"datum": 0.72, "type": "quantitative", "scale": {"type": "log", "domain": [0.000411, 3.82], "nice": false}, "axis": null},
                    "y": {"datum": 1.15, "type": "quantitative", "scale": {"type": "log", "domain": [0.000258, 24.4], "nice": false}, "axis": null},
                    "text": {"field": "name"}
                  }
                }
              ],
              "resolve": {"axis": {"x": "independent", "y": "independent"}}
            }
          ],
          "spacing": 55
        }
      ],
      "spacing": 34.5,
      "center": true
    },
    {
      "width": 732,
      "height": 72,
      "view": {"stroke": null},
      "data": {"name": "caption"},
      "encoding": {
        "x": {"datum": 0, "type": "quantitative", "scale": {"domain": [0, 1]}, "axis": null},
        "y": {"field": "line", "type": "ordinal", "scale": {"type": "point", "domain": [1, 2, 3], "padding": 0.5}, "axis": null},
        "text": {"field": "text"}
      },
      "layer": [
        {"transform": [{"filter": "datum.seg == 'fig'"}], "mark": {"type": "text", "align": "left", "baseline": "alphabetic", "font": "Liberation Serif", "fontSize": 18.5, "fontWeight": "bold", "color": "black"}},
        {"transform": [{"filter": "datum.seg == 'r1'"}], "mark": {"type": "text", "align": "left", "baseline": "alphabetic", "font": "Liberation Serif", "fontSize": 18.5, "color": "black", "dx": 83}},
        {"transform": [{"filter": "datum.seg == 'open' || datum.seg == 'r3'"}], "mark": {"type": "text", "align": "left", "baseline": "alphabetic", "font": "Liberation Serif", "fontSize": 18.5, "color": "black"}},
        {"transform": [{"filter": "datum.seg == 'top'"}], "mark": {"type": "text", "align": "left", "baseline": "alphabetic", "font": "Liberation Serif", "fontSize": 18.5, "fontStyle": "italic", "color": "black", "dx": 7.5}},
        {"transform": [{"filter": "datum.seg == 'r2a'"}], "mark": {"type": "text", "align": "left", "baseline": "alphabetic", "font": "Liberation Serif", "fontSize": 18.5, "color": "black", "dx": 44}},
        {"transform": [{"filter": "datum.seg == 'bottom'"}], "mark": {"type": "text", "align": "left", "baseline": "alphabetic", "font": "Liberation Serif", "fontSize": 18.5, "fontStyle": "italic", "color": "black", "dx": 280}},
        {"transform": [{"filter": "datum.seg == 'r2b'"}], "mark": {"type": "text", "align": "left", "baseline": "alphabetic", "font": "Liberation Serif", "fontSize": 18.5, "color": "black", "dx": 345}}
      ]
    }
  ],
  "spacing": 20.5,
  "center": true
}
